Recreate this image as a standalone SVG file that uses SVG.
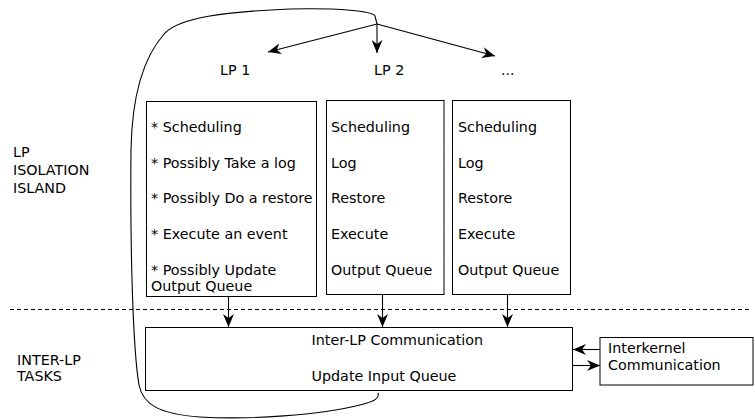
<svg xmlns="http://www.w3.org/2000/svg" width="755" height="419" viewBox="0 0 755 419">
  <style>
    text { font-family: "DejaVu Sans", "Liberation Sans", sans-serif; font-size: 14.3px; fill: #000; }
    .box { fill: #fff; stroke: #000; stroke-width: 1; }
    .line { fill: none; stroke: #000; stroke-width: 1.1; }
    .dash { fill: none; stroke: #000; stroke-width: 1; stroke-dasharray: 4 3; }
  </style>
  <defs>
    <marker id="arrow" viewBox="0 0 13 11" refX="13" refY="5.5" markerWidth="13" markerHeight="11" markerUnits="userSpaceOnUse" orient="auto">
      <path d="M0,0 L13,5.5 L0,11 L4,5.5 z" fill="#000"/>
    </marker>
  </defs>
  <rect width="755" height="419" fill="#fff"/>

  <!-- layer labels -->
  <g id="label-isolation">
    <text x="13" y="157">LP</text>
    <text x="13" y="175">ISOLATION</text>
    <text x="13" y="193">ISLAND</text>
  </g>
  <g id="label-interlp">
    <text x="17" y="365">INTER-LP</text>
    <text x="17" y="381">TASKS</text>
  </g>

  <!-- LP headings -->
  <g id="lp1-title"><text x="220" y="75">LP 1</text></g>
  <g id="lp2-title"><text x="374" y="75">LP 2</text></g>
  <g id="lpn-title"><text x="501" y="75">...</text></g>

  <!-- LP 1 -->
  <g id="lp1">
    <rect class="box" x="146.5" y="101.5" width="170" height="195"/>
    <text x="151" y="132">* Scheduling</text>
    <text x="151" y="168">* Possibly Take a log</text>
    <text x="151" y="203">* Possibly Do a restore</text>
    <text x="151" y="239">* Execute an event</text>
    <text x="151" y="275">* Possibly Update</text>
    <text x="151" y="291">Output Queue</text>
  </g>

  <!-- LP 2 -->
  <g id="lp2">
    <rect class="box" x="326.5" y="100.5" width="117.5" height="194"/>
    <text x="331" y="132">Scheduling</text>
    <text x="331" y="168">Log</text>
    <text x="331" y="203">Restore</text>
    <text x="331" y="239">Execute</text>
    <text x="331" y="275">Output Queue</text>
  </g>

  <!-- further LPs -->
  <g id="lpn">
    <rect class="box" x="452.5" y="100.5" width="118" height="194"/>
    <text x="458" y="132">Scheduling</text>
    <text x="458" y="168">Log</text>
    <text x="458" y="203">Restore</text>
    <text x="458" y="239">Execute</text>
    <text x="458" y="275">Output Queue</text>
  </g>

  <!-- inter-LP communication -->
  <g id="interlp">
    <rect class="box" x="145.5" y="327.5" width="427" height="63"/>
    <text x="311.5" y="345">Inter-LP Communication</text>
    <text x="311.5" y="381">Update Input Queue</text>
  </g>

  <!-- interkernel communication -->
  <g id="interkernel">
    <rect class="box" x="600" y="337.5" width="153" height="47.5"/>
    <text x="608" y="353">Interkernel</text>
    <text x="608" y="370">Communication</text>
  </g>

  <!-- connectors -->
  <g id="connectors">
    <line class="dash" x1="10" y1="309.5" x2="752" y2="309.5"/>

    <!-- loop from the input queue back to the LP dispatcher -->
    <path class="line" d="M378,393 C379.5,398 376,401 360,405 C320,415 250,420 200,417 C160,414 143,405 139,385 C133,350 130,250 131,150 C132,90 145,55 165,33 C180,18 220,12 290,9 C340,8 372,11 375,16 L377,24"/>

    <!-- dispatch to the LPs -->
    <line class="line" x1="377" y1="24" x2="268" y2="52" marker-end="url(#arrow)"/>
    <line class="line" x1="377" y1="24" x2="377" y2="53" marker-end="url(#arrow)"/>
    <line class="line" x1="377" y1="24" x2="495" y2="56" marker-end="url(#arrow)"/>

    <!-- output queues to inter-LP communication -->
    <line class="line" x1="228.5" y1="297" x2="228.5" y2="327" marker-end="url(#arrow)"/>
    <line class="line" x1="382.5" y1="295" x2="382.5" y2="327" marker-end="url(#arrow)"/>
    <line class="line" x1="507.5" y1="295" x2="507.5" y2="327" marker-end="url(#arrow)"/>

    <!-- interkernel exchange -->
    <line class="line" x1="600" y1="349.5" x2="573" y2="349.5" marker-end="url(#arrow)"/>
    <line class="line" x1="573" y1="365.5" x2="600" y2="365.5" marker-end="url(#arrow)"/>
  </g>
</svg>
